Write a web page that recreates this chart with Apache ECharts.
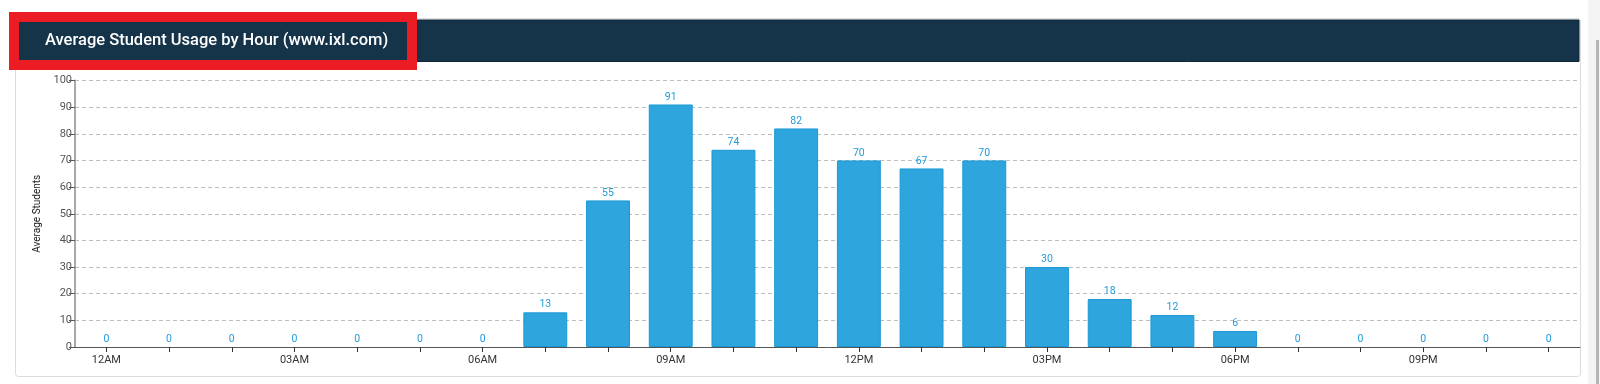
<!DOCTYPE html>
<html>
<head>
<meta charset="utf-8">
<script src="https://cdn.jsdelivr.net/npm/echarts@6/dist/echarts.min.js"></script>
<style>
html,body{margin:0;padding:0;background:#fff;}
#chart{width:1600px;height:384px;}
</style>
</head>
<body>
<div id="chart"></div>
<script>
const titleText = 'Average Student Usage by Hour (www.ixl.com)';
const yAxisName = 'Average Students';
const hours = ['12AM','01AM','02AM','03AM','04AM','05AM','06AM','07AM','08AM','09AM','10AM','11AM',
               '12PM','01PM','02PM','03PM','04PM','05PM','06PM','07PM','08PM','09PM','10PM','11PM'];
const students = [0,0,0,0,0,0,0,13,55,91,74,82,70,67,70,30,18,12,6,0,0,0,0,0];
const yTicks = {min:0, max:100, step:10};

const barData = students.map(v => v === 0 ? {value:v, itemStyle:{borderWidth:0}} : v);

const chart = echarts.init(document.getElementById('chart'), null, {renderer:'canvas'});
chart.setOption({
  animation:false,
  backgroundColor:'#ffffff',
  graphic:[
    {type:'rect', z:-10, shape:{x:1588,y:0,width:12,height:384}, style:{fill:'#f4f4f4'}},
    {type:'rect', z:-10, shape:{x:1596,y:40,width:3,height:344}, style:{fill:'#b5b5b5'}},
    {type:'rect', z:-9, shape:{x:15.5,y:18.5,width:1565,height:358,r:3}, style:{fill:'#ffffff',stroke:'#dcdcdc',lineWidth:1}},
    {type:'rect', z:-8, shape:{x:16,y:20,width:1563,height:41.5}, style:{fill:'#15344a',stroke:'#0d2536',lineWidth:1}},
    {type:'rect', z:50, shape:{x:14,y:17,width:398,height:48}, style:{fill:'none',stroke:'#ec1c24',lineWidth:10}},
    {type:'text', z:60, x:45, y:41, style:{text:titleText, fill:'#ffffff', font:'500 16.5px Roboto', textVerticalAlign:'middle'}}
  ],
  grid:{left:75, right:20, top:80.5, bottom:37, containLabel:false},
  xAxis:{
    type:'category',
    data:hours,
    boundaryGap:true,
    z:5,
    axisLine:{lineStyle:{color:'#555',width:1}},
    axisTick:{show:true, alignWithLabel:true, interval:0, length:5, lineStyle:{color:'#333', width:1}},
    axisLabel:{interval:2, color:'#333', fontSize:11, fontFamily:'Roboto', margin:8},
    splitLine:{show:false}
  },
  yAxis:{
    type:'value',
    min:yTicks.min, max:yTicks.max, interval:yTicks.step,
    name:yAxisName, nameLocation:'middle', nameGap:33,
    nameTextStyle:{color:'#222', fontSize:10, fontFamily:'Roboto'},
    axisLine:{show:true, lineStyle:{color:'#a8a8a8', width:2}},
    axisTick:{show:true, length:6, lineStyle:{color:'#555'}},
    axisLabel:{color:'#555', fontSize:11, fontFamily:'Roboto', margin:3},
    splitLine:{show:true, lineStyle:{color:'#bdbdbd', type:[4,3], width:1}}
  },
  series:[{
    type:'bar',
    data:barData,
    barWidth:'70%',
    itemStyle:{color:'#2ea5dc', borderColor:'#1a98d4', borderWidth:1},
    label:{show:true, position:'top', distance:2, color:'#1f9bd8', fontSize:10.5, fontFamily:'Roboto'}
  }]
});
</script>
</body>
</html>
